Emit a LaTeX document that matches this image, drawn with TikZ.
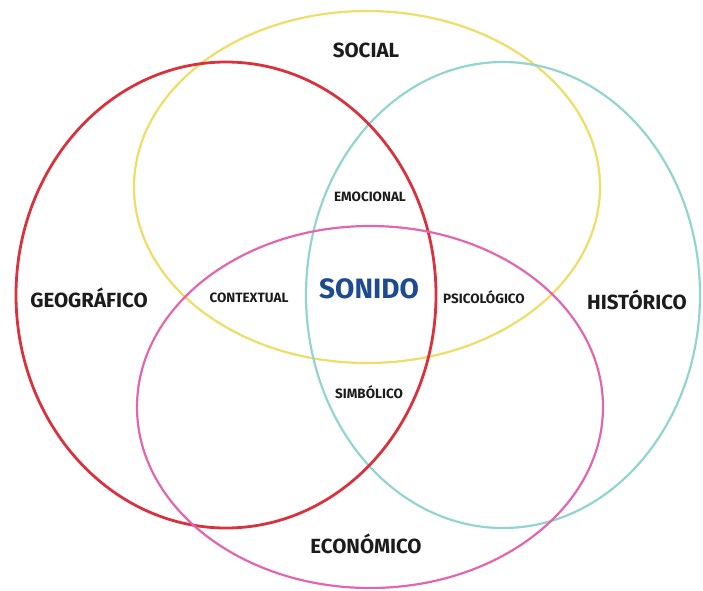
\documentclass[tikz,border=0pt]{standalone}
\usepackage{fontspec}
\setmainfont{Fira Sans}
\definecolor{cred}{HTML}{D8323F}
\definecolor{cyel}{HTML}{EEDD66}
\definecolor{ccya}{HTML}{92D4D2}
\definecolor{cpin}{HTML}{E266AE}
\definecolor{ctxt}{HTML}{1C1C1C}
\definecolor{cblue}{HTML}{1E4A91}
\tikzset{
  big/.style={font=\fontsize{20.5}{20.5}\selectfont\bfseries, text=ctxt, inner sep=0pt},
  small/.style={font=\fontsize{13.5}{13.5}\selectfont\bfseries, text=ctxt, inner sep=0pt},
  core/.style={font=\fontsize{28}{28}\selectfont\bfseries, text=cblue, inner sep=0pt},
  ring/.style={line width=2.2pt}
}
\begin{document}
\begin{tikzpicture}[x=1pt,y=-1pt]
\useasboundingbox (0,0) rectangle (703,590);
\draw[ring, cyel] (367,187) ellipse [x radius=233pt, y radius=176pt];
\draw[ring, ccya] (503,295) ellipse [x radius=197pt, y radius=233pt];
\draw[ring, cred, line width=2.8pt] (226,295) ellipse [x radius=210pt, y radius=233pt];
\draw[ring, cpin] (370,407) ellipse [x radius=233pt, y radius=181pt];
\node[big] (social) at (366,50) {SOCIAL};
\node[big] (geo) at (89,298) {GEOGRÁFICO};
\node[big] (hist) at (637,300) {HISTÓRICO};
\node[big] (eco) at (366,544) {ECONÓMICO};
\node[core] (sonido) at (369,289) {SONIDO};
\node[small] (emo) at (370,197) {EMOCIONAL};
\node[small] (ctx) at (249,298) {CONTEXTUAL};
\node[small] (psi) at (484,297) {PSICOLÓGICO};
\node[small] (sim) at (369,392) {SIMBÓLICO};
\end{tikzpicture}
\end{document}
